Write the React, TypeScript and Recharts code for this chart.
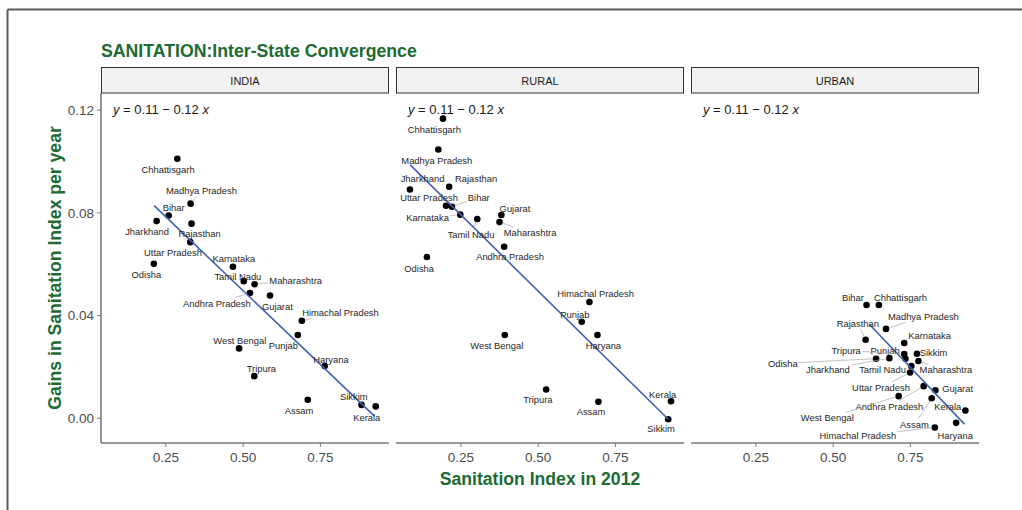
import React from 'react';
import { ScatterChart, Scatter, XAxis, YAxis } from 'recharts';

// ---------- DATA ----------
const states = [
  'Chhattisgarh', 'Madhya Pradesh', 'Bihar', 'Jharkhand', 'Rajasthan',
  'Uttar Pradesh', 'Odisha', 'Karnataka', 'Tamil Nadu', 'Maharashtra',
  'Andhra Pradesh', 'Gujarat', 'Himachal Pradesh', 'Punjab', 'West Bengal',
  'Haryana', 'Tripura', 'Assam', 'Sikkim', 'Kerala',
];

const facets = ['INDIA', 'RURAL', 'URBAN'];
const equationText = ['y = 0.11 \u2212 0.12 x', 'y = 0.11 \u2212 0.12 x', 'y = 0.11 \u2212 0.12 x'];

const xTicks = [0.25, 0.5, 0.75];
const yTicks = [0, 0.04, 0.08, 0.12];

// INDIA
const indiaX = [0.287, 0.330, 0.259, 0.220, 0.333, 0.329, 0.211, 0.467, 0.502, 0.537, 0.522, 0.587, 0.690, 0.677, 0.487, 0.764, 0.536, 0.709, 0.883, 0.929];
const indiaY = [0.1011, 0.0836, 0.0790, 0.0768, 0.0758, 0.0686, 0.0602, 0.0590, 0.0534, 0.0522, 0.0488, 0.0478, 0.0380, 0.0324, 0.0272, 0.0203, 0.0164, 0.0072, 0.0052, 0.0046];
const indiaLabelPos = [
  [0.257, 0.0970], [0.365, 0.0888], [0.275, 0.0822], [0.189, 0.0728], [0.359, 0.0718],
  [0.273, 0.0646], [0.187, 0.0560], [0.470, 0.0624], [0.483, 0.0552], [0.670, 0.0538],
  [0.415, 0.0448], [0.611, 0.0435], [0.815, 0.0410], [0.630, 0.0284], [0.489, 0.0304],
  [0.784, 0.0230], [0.559, 0.0194], [0.681, 0.0032], [0.858, 0.0083], [0.900, 0.0004],
];
const indiaFit = [[0.212, 0.0828], [0.925, 0.0008]];

// RURAL
const ruralX = [0.192, 0.177, 0.221, 0.085, 0.212, 0.202, 0.140, 0.248, 0.303, 0.375, 0.390, 0.381, 0.666, 0.641, 0.392, 0.692, 0.526, 0.695, 0.921, 0.930];
const ruralY = [0.1167, 0.1047, 0.0824, 0.0891, 0.0902, 0.0828, 0.0628, 0.0793, 0.0776, 0.0764, 0.0668, 0.0792, 0.0453, 0.0376, 0.0324, 0.0324, 0.0112, 0.0064, -0.0004, 0.0066];
const ruralLabelPos = [
  [0.164, 0.1125], [0.172, 0.1005], [0.308, 0.0861], [0.126, 0.0932], [0.299, 0.0932],
  [0.147, 0.0858], [0.115, 0.0585], [0.142, 0.0782], [0.283, 0.0716], [0.474, 0.0723],
  [0.409, 0.0629], [0.425, 0.0816], [0.686, 0.0484], [0.619, 0.0406], [0.366, 0.0284],
  [0.711, 0.0284], [0.499, 0.0073], [0.671, 0.0025], [0.898, -0.0040], [0.903, 0.0094],
];
const ruralFit = [[0.086, 0.0987], [0.921, -0.0004]];

// URBAN
const urbanX = [0.648, 0.671, 0.608, 0.682, 0.605, 0.749, 0.639, 0.730, 0.753, 0.776, 0.793, 0.831, 0.829, 0.734, 0.712, 0.898, 0.730, 0.819, 0.771, 0.928];
const urbanY = [0.0441, 0.0348, 0.0441, 0.0234, 0.0306, 0.0178, 0.0232, 0.0293, 0.0203, 0.0223, 0.0125, 0.0109, -0.0036, 0.0232, 0.0086, -0.0018, 0.0250, 0.0078, 0.0251, 0.0030];
const urbanLabelPos = [
  [0.718, 0.0471], [0.792, 0.0395], [0.564, 0.0471], [0.483, 0.0191], [0.580, 0.0370],
  [0.655, 0.0120], [0.337, 0.0214], [0.812, 0.0324], [0.660, 0.0191], [0.865, 0.0188],
  [0.682, 0.0046], [0.903, 0.0116], [0.580, -0.0069], [0.668, 0.0264], [0.481, 0.0001],
  [0.895, -0.0069], [0.542, 0.0264], [0.763, -0.0025], [0.825, 0.0255], [0.871, 0.0046],
];
const urbanFit = [[0.617, 0.0366], [0.925, -0.0023]];

// ---------- STYLE ----------
const FONT = '"Liberation Sans", Arial, Helvetica, sans-serif';
const GREEN = '#1c6b33';
const BLUE = '#3f5fb8';
const AXIS = '#7a7a7a';
const X_DOMAIN: [number, number] = [0.04, 0.972];
const Y_DOMAIN: [number, number] = [-0.00965, 0.1267];
const LABEL_FS = 9.4;

const CW: Record<string, number> = {
  ' ': 0.278, i: 0.222, l: 0.222, j: 0.222, t: 0.278, f: 0.278, r: 0.333,
  m: 0.833, w: 0.722, I: 0.278, M: 0.833, W: 0.944,
};
function textWidth(s: string, fs: number) {
  let w = 0;
  for (const c of s) {
    if (CW[c] !== undefined) w += CW[c];
    else if (c >= 'A' && c <= 'Z') w += 0.68;
    else w += 0.556;
  }
  return w * fs;
}

const build = (xs: number[], ys: number[]) => states.map((name, i) => ({ name, x: xs[i], y: ys[i] }));
const buildLabels = (lp: number[][]) => states.map((name, i) => ({ name, x: lp[i][0], y: lp[i][1] }));
const buildFit = (f: number[][]) => f.map(([x, y]) => ({ x, y }));

const panels = [
  { points: build(indiaX, indiaY), labels: buildLabels(indiaLabelPos), fit: buildFit(indiaFit) },
  { points: build(ruralX, ruralY), labels: buildLabels(ruralLabelPos), fit: buildFit(ruralFit) },
  { points: build(urbanX, urbanY), labels: buildLabels(urbanLabelPos), fit: buildFit(urbanFit) },
];

const PANEL_LEFT = [101, 396, 691];
const PANEL_W = 288;
const PANEL_TOP = 93;
const PANEL_H = 350;

function Panel({ idx }: { idx: number }) {
  const p = panels[idx];
  const showY = idx === 0;
  const yw = showY ? 60 : 0;
  const pos: Record<string, { cx: number; cy: number }> = {};
  const tickStyle = { fill: '#4d4d4d', fontSize: 13.5, fontFamily: FONT };
  return (
    <div style={{ position: 'absolute', left: PANEL_LEFT[idx] - yw, top: PANEL_TOP }}>
      <ScatterChart width={PANEL_W + yw} height={PANEL_H + 35} margin={{ top: 0, right: 0, bottom: 0, left: 0 }}>
        <XAxis
          type="number" dataKey="x" domain={X_DOMAIN} allowDataOverflow ticks={xTicks}
          tickFormatter={(v: number) => v.toFixed(2)} height={35} tickSize={4} tickMargin={5}
          axisLine={{ stroke: AXIS, strokeWidth: 1.6 }} tickLine={{ stroke: AXIS, strokeWidth: 1 }}
          tick={tickStyle} interval={0}
        />
        <YAxis
          type="number" dataKey="y" domain={Y_DOMAIN} allowDataOverflow ticks={yTicks}
          tickFormatter={(v: number) => v.toFixed(2)} width={yw} hide={!showY} tickSize={4} tickMargin={3}
          axisLine={{ stroke: AXIS, strokeWidth: 1.6 }} tickLine={{ stroke: AXIS, strokeWidth: 1 }}
          tick={tickStyle} interval={0}
        />
        <Scatter
          data={p.points} isAnimationActive={false}
          shape={(s: any) => {
            pos[s.payload.name] = { cx: s.cx, cy: s.cy };
            return <circle cx={s.cx} cy={s.cy} r={3.3} fill="#000" />;
          }}
        />
        <Scatter
          data={p.fit} isAnimationActive={false} line={{ stroke: BLUE, strokeWidth: 1.6 }} lineType="joint"
          shape={() => <g />}
        />
        <Scatter
          data={p.labels} isAnimationActive={false}
          shape={(s: any) => {
            const name = s.payload.name as string;
            const w = textWidth(name, LABEL_FS);
            const h = LABEL_FS;
            const pt = pos[name];
            let seg = null;
            if (pt) {
              const dx = pt.cx - s.cx;
              const dy = pt.cy - s.cy;
              const inside = Math.abs(dx) <= w / 2 + 1 && Math.abs(dy) <= h / 2 + 1;
              if (!inside) {
                const tx = dx === 0 ? Infinity : (w / 2 + 1) / Math.abs(dx);
                const ty = dy === 0 ? Infinity : (h / 2 + 1) / Math.abs(dy);
                const t = Math.min(tx, ty);
                const dist = Math.sqrt(dx * dx + dy * dy);
                const len = dist * (1 - t) - 3;
                if (len > 6) {
                  const ex = s.cx + dx * t;
                  const ey = s.cy + dy * t;
                  const k = (dist - 3) / dist;
                  seg = <line x1={ex} y1={ey} x2={s.cx + dx * k} y2={s.cy + dy * k} stroke="#a6a6a6" strokeWidth={0.7} />;
                }
              }
            }
            return (
              <g>
                {seg}
                <text x={s.cx} y={s.cy} textAnchor="middle" dominantBaseline="central"
                  fontSize={LABEL_FS} fontFamily={FONT} fill="#262626">{name}</text>
              </g>
            );
          }}
        />
      </ScatterChart>
    </div>
  );
}

export default function App() {
  return (
    <div style={{ position: 'absolute', left: 0, top: 0, width: 1022, height: 510, background: '#fff', overflow: 'hidden', fontFamily: FONT }}>
      <svg width={1022} height={510} style={{ position: 'absolute', left: 0, top: 0 }}>
        <line x1={7.5} y1={9.5} x2={1022} y2={9.5} stroke="#5a5a5a" strokeWidth={2} />
        <line x1={7.5} y1={9.5} x2={7.5} y2={510} stroke="#5a5a5a" strokeWidth={2} />
        <text x={101} y={56.5} fontSize={17.7} fontWeight="bold" fill={GREEN} fontFamily={FONT}>
          SANITATION:Inter-State Convergence
        </text>
        <text x={540} y={485} fontSize={17.6} fontWeight="bold" fill={GREEN} fontFamily={FONT} textAnchor="middle">
          Sanitation Index in 2012
        </text>
        <text x={0} y={0} fontSize={17.6} fontWeight="bold" fill={GREEN} fontFamily={FONT} textAnchor="middle"
          transform="translate(60.5 268) rotate(-90)">
          Gains in Sanitation Index per year
        </text>
        {facets.map((f, i) => (
          <g key={f}>
            <rect x={PANEL_LEFT[i] + 0.5} y={67.5} width={PANEL_W - 1} height={25.5} fill="#f2f2f2" stroke="#333" strokeWidth={1} />
            <text x={PANEL_LEFT[i] + PANEL_W / 2} y={84.5} fontSize={11} fill="#1a1a1a" textAnchor="middle" fontFamily={FONT}>{f}</text>
          </g>
        ))}
      </svg>
      {facets.map((f, i) => <Panel key={f} idx={i} />)}
      <svg width={1022} height={510} style={{ position: 'absolute', left: 0, top: 0, pointerEvents: 'none' }}>
        {facets.map((f, i) => {
          const parts = equationText[i].split(' ');
          return (
            <text key={f} x={PANEL_LEFT[i] + 12} y={114} fontSize={13} fill="#1a1a1a" fontFamily={FONT}>
              <tspan fontStyle="italic">{parts[0]}</tspan>
              <tspan>{' ' + parts.slice(1, -1).join(' ') + ' '}</tspan>
              <tspan fontStyle="italic">{parts[parts.length - 1]}</tspan>
            </text>
          );
        })}
      </svg>
    </div>
  );
}
